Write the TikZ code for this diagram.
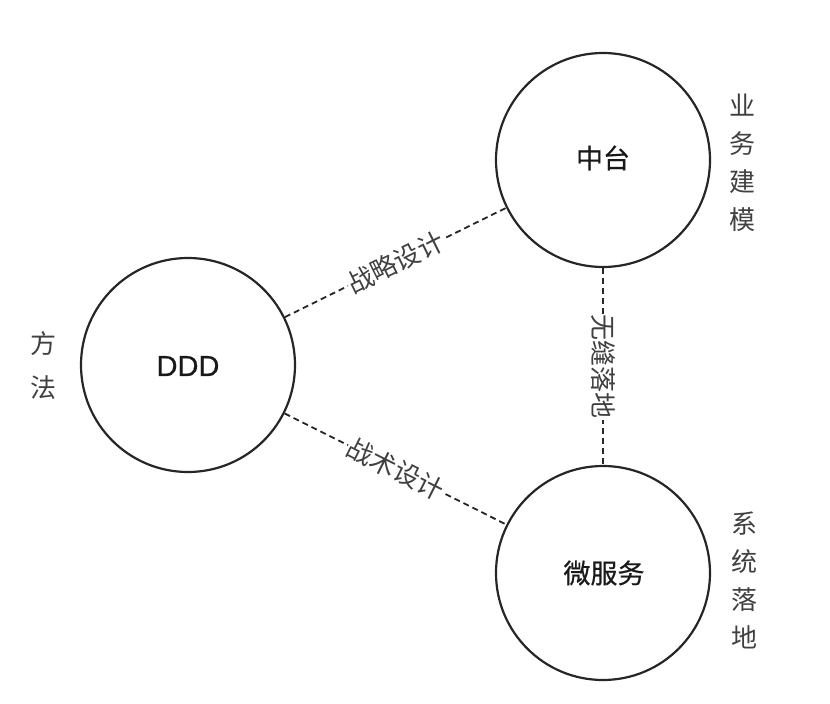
\documentclass[tikz,border=0pt]{standalone}
\usepackage{fontspec}
\newfontfamily\cjk{Noto Sans CJK SC}
\newfontfamily\cjkmed[FakeBold=0.6]{Noto Sans CJK SC}
\newfontfamily\sansmed[FakeBold=0.5]{Liberation Sans}
\setmainfont{Liberation Sans}
\begin{document}
\begin{tikzpicture}[x=1pt,y=-1pt,
  bigcircle/.style={circle,draw=black!85,line width=2.2pt,minimum size=214pt,inner sep=0pt},
  incircle/.style={text=black!90,font=\cjkmed\fontsize{27}{30}\selectfont},
  link/.style={draw=black!85,line width=1.8pt,dash pattern=on 6pt off 4pt},
  linklabel/.style={fill=white,inner sep=1pt,text=black!75,font=\cjk\fontsize{26}{28}\selectfont},
  sidelabel/.style={align=center,text=black!75,font=\cjk\fontsize{26}{38}\selectfont}]
\useasboundingbox (0,0) rectangle (830,704);
\node[bigcircle] (zt) at (603,160) {};
\node[bigcircle] (ddd) at (188,365) {};
\node[bigcircle] (wfw) at (603,573) {};
\node[incircle] (ztt) at (603,158) {中台};
\node[text=black!90,font=\sansmed\fontsize{29}{30}\selectfont] (dddt) at (188,366) {DDD};
\node[incircle] (wfwt) at (604,573) {微服务};
\draw[link] (ddd) -- node[linklabel,sloped] (l1) {战略设计} (zt);
\draw[link] (ddd) -- node[linklabel,sloped] (l2) {战术设计} (wfw);
\draw[link] (zt) -- node[linklabel,rotate=-90] (l3) {无缝落地} (wfw);
\node[sidelabel] (s1) at (742,163) {业\\务\\建\\模};
\node[sidelabel] (s2) at (744,580) {系\\统\\落\\地};
\node[sidelabel,font=\cjk\fontsize{26}{44}\selectfont] (s3) at (43,366) {方\\法};
\end{tikzpicture}
\end{document}
